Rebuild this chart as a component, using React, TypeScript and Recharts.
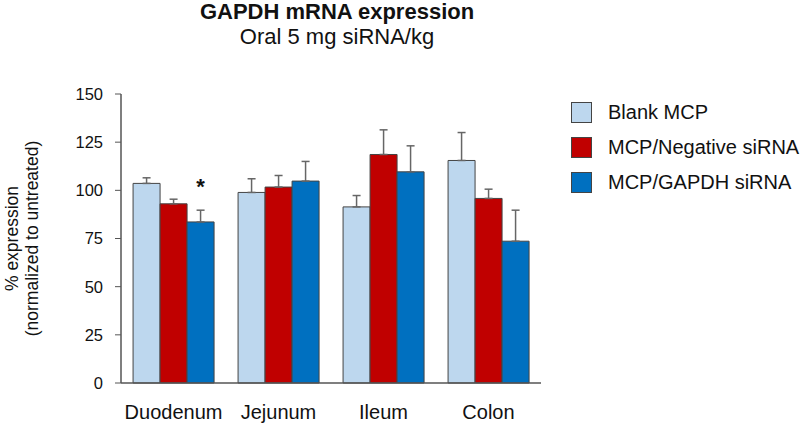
import React from "react";
import { BarChart, Bar, XAxis, YAxis, ErrorBar, LabelList } from "recharts";

const categories = ["Duodenum", "Jejunum", "Ileum", "Colon"];
const blankMCP = [103.6, 98.9, 91.4, 115.5];
const blankErr = [2.9, 7.1, 5.9, 14.5];
const negSiRNA = [93.0, 101.7, 118.6, 95.8];
const negErr = [2.4, 6.0, 12.8, 4.8];
const gapdhSiRNA = [83.6, 104.8, 109.6, 73.6];
const gapdhErr = [6.1, 10.2, 13.5, 16.1];
const significance = ["*", "", "", ""];
const yTicks = [0, 25, 50, 75, 100, 125, 150];

const seriesNames = ["Blank MCP", "MCP/Negative siRNA", "MCP/GAPDH siRNA"];
const seriesColors = ["#bdd7ee", "#c00000", "#0070c0"];

const data = categories.map((c, i) => ({
  name: c,
  blank: blankMCP[i],
  blankE: [0, blankErr[i]],
  neg: negSiRNA[i],
  negE: [0, negErr[i]],
  gapdh: gapdhSiRNA[i],
  gapdhE: [0, gapdhErr[i]],
  sig: significance[i],
}));

const FONT = "'Liberation Sans', Arial, sans-serif";

const LegendBlock = () => (
  <div
    style={{
      position: "absolute",
      left: 571,
      top: 95,
      fontFamily: FONT,
      fontSize: 20,
      color: "#111",
    }}
  >
    {seriesNames.map((n, i) => (
      <div key={n} style={{ display: "flex", alignItems: "center", height: 35, whiteSpace: "nowrap" }}>
        <div
          style={{
            width: 19,
            height: 19,
            background: seriesColors[i],
            border: "1.5px solid #444",
            marginRight: 16,
            flexShrink: 0,
          }}
        />
        <span>{n}</span>
      </div>
    ))}
  </div>
);

const SigLabel = (props: any) => {
  const { x, y, width, value } = props;
  if (!value) return null;
  return (
    <text
      x={x + width / 2}
      y={y - 28}
      textAnchor="middle"
      fontFamily={FONT}
      fontWeight="bold"
      fontSize={22}
      fill="#111"
    >
      {value}
    </text>
  );
};

const YLabel = (props: any) => {
  const vb = props.viewBox || { y: 94, height: 289 };
  const cy = vb.y + vb.height / 2;
  return (
    <g>
      <text
        x={18}
        y={cy}
        transform={`rotate(-90, 18, ${cy})`}
        textAnchor="middle"
        fontFamily={FONT}
        fontSize={17.5}
        fill="#111"
      >
        % expression
      </text>
      <text
        x={38}
        y={cy}
        transform={`rotate(-90, 38, ${cy})`}
        textAnchor="middle"
        fontFamily={FONT}
        fontSize={17.5}
        fill="#111"
      >
        (normalized to untreated)
      </text>
    </g>
  );
};

export default function App() {
  return (
    <div style={{ position: "fixed", left: 0, top: 0, width: 800, height: 424, background: "#fff", overflow: "hidden" }}>
      <div
        style={{
          position: "absolute",
          left: 137,
          width: 400,
          top: 0,
          textAlign: "center",
          fontFamily: FONT,
          color: "#111",
        }}
      >
        <div style={{ fontSize: 22, fontWeight: "bold", lineHeight: "24px" }}>GAPDH mRNA expression</div>
        <div style={{ fontSize: 22, lineHeight: "26px" }}>Oral 5 mg siRNA/kg</div>
      </div>
      <LegendBlock />
      <BarChart
        width={800}
        height={424}
        data={data}
        margin={{ top: 94, right: 259, bottom: 0, left: 0 }}
        barCategoryGap="11.5%"
        barGap={0}
      >
        <XAxis
          dataKey="name"
          tickLine={false}
          tickSize={0}
          tickMargin={22}
          height={41}
          axisLine={{ stroke: "#555", strokeWidth: 1.5 }}
          tick={{ fontFamily: FONT, fontSize: 20, fill: "#111" }}
        />
        <YAxis
          domain={[0, 150]}
          ticks={yTicks}
          width={121}
          tickSize={6}
          tickMargin={12}
          axisLine={{ stroke: "#555", strokeWidth: 1.5 }}
          tickLine={{ stroke: "#555" }}
          tick={{ fontFamily: FONT, fontSize: 16.5, fill: "#111" }}
          label={<YLabel />}
        />
        <Bar dataKey="blank" name={seriesNames[0]} fill={seriesColors[0]} stroke="#444" strokeWidth={1} isAnimationActive={false}>
          <ErrorBar dataKey="blankE" width={4} stroke="#666" strokeWidth={1.5} direction="y" />
        </Bar>
        <Bar dataKey="neg" name={seriesNames[1]} fill={seriesColors[1]} stroke="#444" strokeWidth={1} isAnimationActive={false}>
          <ErrorBar dataKey="negE" width={4} stroke="#666" strokeWidth={1.5} direction="y" />
        </Bar>
        <Bar dataKey="gapdh" name={seriesNames[2]} fill={seriesColors[2]} stroke="#444" strokeWidth={1} isAnimationActive={false}>
          <ErrorBar dataKey="gapdhE" width={4} stroke="#666" strokeWidth={1.5} direction="y" />
          <LabelList dataKey="sig" content={<SigLabel />} />
        </Bar>
      </BarChart>
    </div>
  );
}
